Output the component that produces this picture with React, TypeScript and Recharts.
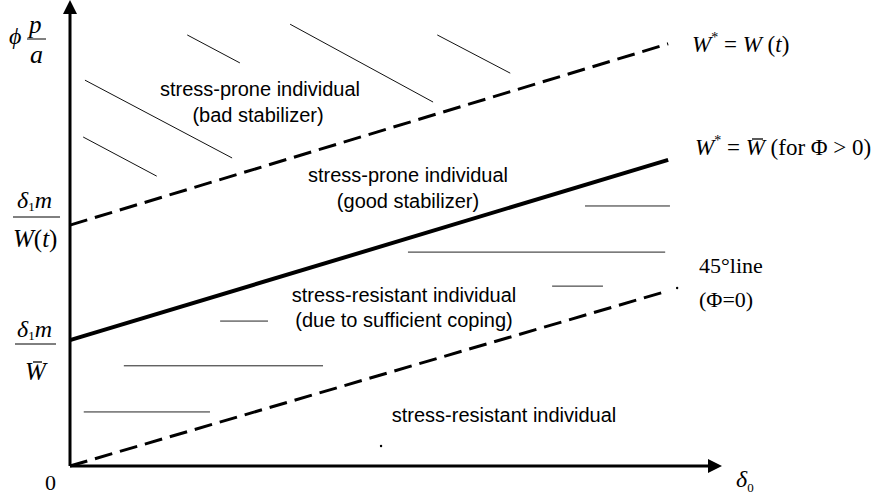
import React from "react";
import { ComposedChart, Line, XAxis, YAxis, ReferenceLine, ReferenceDot } from "recharts";

// x positions where the three boundary lines are drawn
const lineX = [0, 10];
const upperWt = [5.17, 9.06]; // W* = W(t)
const middleWbar = [2.7, 6.57]; // W* = W-bar
const diagonal = [0, 3.76]; // 45 degree line

// hatch strokes: [x1, y1, x2, y2]
const slantHatches = [
  [1.96, 9.25, 2.84, 8.65],
  [3.68, 9.48, 6.07, 7.81],
  [6.14, 9.25, 7.36, 8.43],
  [0.25, 8.28, 2.71, 6.61],
  [0.22, 7.06, 1.45, 6.22],
];
// horizontal hatch strokes: [y, x1, x2]
const flatHatches = [
  [5.58, 8.61, 10.03],
  [4.59, 5.65, 9.95],
  [3.86, 8.06, 8.91],
  [3.11, 2.51, 3.31],
  [2.15, 0.9, 4.23],
  [1.16, 0.23, 2.34],
];
const strayDots = [
  [5.2, 0.43],
  [10.15, 3.82],
];

const lineData = lineX.map((x, i) => ({
  x,
  wt: upperWt[i],
  wbar: middleWbar[i],
  diag: diagonal[i],
}));

const sans = "'Liberation Sans', Arial, sans-serif";
const serif = "'Liberation Serif', 'Times New Roman', serif";

const UpArrow = ({ cx, cy }: any) => (
  <polygon points={`${cx},${cy} ${cx - 7},${cy + 14} ${cx + 7},${cy + 14}`} fill="#000" />
);
const RightArrow = ({ cx, cy }: any) => (
  <polygon points={`${cx},${cy} ${cx - 14},${cy - 7} ${cx - 14},${cy + 7}`} fill="#000" />
);

const Overlay = () => (
  <svg width={884} height={497} style={{ position: "absolute", left: 0, top: 0, pointerEvents: "none" }}>
    <g fontFamily={sans} fontSize={20} fill="#000" textAnchor="middle">
      <text x={260} y={96}>stress-prone individual</text>
      <text x={258} y={122}>(bad stabilizer)</text>
      <text x={408} y={182}>stress-prone individual</text>
      <text x={408} y={208}>(good stabilizer)</text>
      <text x={404} y={302}>stress-resistant individual</text>
      <text x={404} y={327}>(due to sufficient coping)</text>
      <text x={504} y={422}>stress-resistant individual</text>
    </g>
    <g fontFamily={serif} fill="#000">
      {/* y axis title */}
      <text x={9} y={44} fontSize={24} fontStyle="italic">ϕ</text>
      <text x={29} y={33} fontSize={25} fontStyle="italic">p</text>
      <line x1={27} x2={46} y1={39} y2={39} stroke="#000" strokeWidth={1} />
      <text x={30} y={63} fontSize={26} fontStyle="italic">a</text>

      {/* delta1 m / W(t) */}
      <text x={17} y={208} fontSize={24}>
        <tspan fontStyle="italic">δ</tspan>
        <tspan fontSize={13} dy={3}>1</tspan>
        <tspan fontStyle="italic" dy={-3}>m</tspan>
      </text>
      <line x1={13} x2={60} y1={217} y2={217} stroke="#000" strokeWidth={1} />
      <text x={13} y={247} fontSize={25}>
        <tspan fontStyle="italic">W</tspan>(<tspan fontStyle="italic">t</tspan>)
      </text>

      {/* delta1 m / W-bar */}
      <text x={17} y={337} fontSize={24}>
        <tspan fontStyle="italic">δ</tspan>
        <tspan fontSize={13} dy={3}>1</tspan>
        <tspan fontStyle="italic" dy={-3}>m</tspan>
      </text>
      <line x1={15} x2={56} y1={344} y2={344} stroke="#000" strokeWidth={1} />
      <text x={25} y={380} fontSize={25} fontStyle="italic">W</text>
      <line x1={33} x2={42} y1={362} y2={362} stroke="#000" strokeWidth={1.3} />

      <text x={45} y={490} fontSize={22}>0</text>
      <text x={736} y={487} fontSize={24}>
        <tspan fontStyle="italic">δ</tspan>
        <tspan fontSize={13} dy={5}>0</tspan>
      </text>

      <text x={692} y={52} fontSize={23}>
        <tspan fontStyle="italic">W</tspan>
        <tspan fontSize={14} dy={-10}>*</tspan>
        <tspan dy={10}> = </tspan>
        <tspan fontStyle="italic">W</tspan> (<tspan fontStyle="italic">t</tspan>)
      </text>

      <text x={695} y={155} fontSize={23}>
        <tspan fontStyle="italic">W</tspan>
        <tspan fontSize={14} dy={-10}>*</tspan>
        <tspan dy={10}> = </tspan>
        <tspan fontStyle="italic">W</tspan> (for Φ &gt; 0)
      </text>
      <line x1={752} x2={763} y1={139} y2={139} stroke="#000" strokeWidth={1.3} />

      <text x={699} y={273} fontSize={22}>45°line</text>
      <text x={699} y={307} fontSize={22}>(Φ=0)</text>
    </g>
  </svg>
);

const App = () => {
  return (
    <div style={{ position: "absolute", left: 0, top: 0, width: 884, height: 497, background: "#fff" }}>
      <ComposedChart
        width={884}
        height={497}
        data={lineData}
        margin={{ top: 0, right: 162, bottom: 31, left: 70 }}
      >
        <XAxis type="number" dataKey="x" domain={[0, 10.9]} hide />
        <YAxis type="number" domain={[0, 10]} hide />

        {slantHatches.map(([x1, y1, x2, y2], i) => (
          <ReferenceLine
            key={`s${i}`}
            segment={[{ x: x1, y: y1 }, { x: x2, y: y2 }]}
            stroke="#111"
            strokeWidth={1}
          />
        ))}
        {flatHatches.map(([y, x1, x2], i) => (
          <ReferenceLine
            key={`h${i}`}
            segment={[{ x: x1, y }, { x: x2, y }]}
            stroke="#222"
            strokeWidth={1}
          />
        ))}
        {strayDots.map(([x, y], i) => (
          <ReferenceDot key={`d${i}`} x={x} y={y} r={1.2} fill="#000" stroke="none" />
        ))}

        <Line
          type="linear"
          dataKey="wt"
          stroke="#000"
          strokeWidth={3}
          strokeDasharray="18 8"
          dot={false}
          isAnimationActive={false}
        />
        <Line
          type="linear"
          dataKey="wbar"
          stroke="#000"
          strokeWidth={4}
          dot={false}
          isAnimationActive={false}
        />
        <Line
          type="linear"
          dataKey="diag"
          stroke="#000"
          strokeWidth={3}
          strokeDasharray="18 8"
          dot={false}
          isAnimationActive={false}
        />

        <ReferenceLine segment={[{ x: 0, y: 0 }, { x: 0, y: 9.75 }]} stroke="#000" strokeWidth={3} />
        <ReferenceLine segment={[{ x: 0, y: 0 }, { x: 10.7, y: 0 }]} stroke="#000" strokeWidth={3} />
        <ReferenceDot x={0} y={10} r={0} shape={<UpArrow />} />
        <ReferenceDot x={10.9} y={0} r={0} shape={<RightArrow />} />
      </ComposedChart>
      <Overlay />
    </div>
  );
};

export default App;
